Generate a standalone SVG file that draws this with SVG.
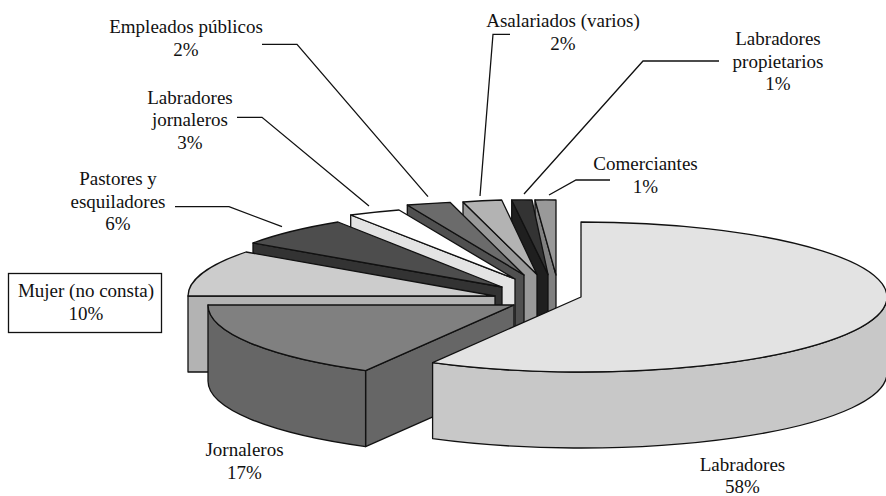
<svg xmlns="http://www.w3.org/2000/svg" width="886" height="496" viewBox="0 0 886 496">
<style>
.s{stroke:#111;stroke-width:1.3;stroke-linejoin:round}
.t{font-size:19px;fill:#111;text-anchor:middle}
.c{fill:none;stroke:#111;stroke-width:1.3}
</style>
<rect width="886" height="496" fill="#fff"/>
<g id="comerciantes">
<path class="s" fill="#808080" d="M535,200 L556,275 L556,351 L535,276 Z"/>
<path class="s" fill="#999" d="M556,275 L535,200 A306,75 0 0 1 556,200 Z"/>
</g>
<g id="labradores-propietarios">
<path class="s" fill="#1f1f1f" d="M511.7,200 L548,274.5 L548,350.5 L511.7,276 Z"/>
<path class="s" fill="#333" d="M548,274.5 L511.7,200 A306,75 0 0 1 532,200 Z"/>
</g>
<g id="asalariados">
<path class="s" fill="#999" d="M463,202 L537,274.5 L537,350.5 L463,278 Z"/>
<path class="s" fill="#b3b3b3" d="M537,274.5 L463,202 A306,75 0 0 1 501.7,200 Z"/>
</g>
<g id="empleados">
<path class="s" fill="#505050" d="M407.3,205 L524,275 L524,351 L407.3,281 Z"/>
<path class="s" fill="#6b6b6b" d="M524,275 L407.3,205 A306,75 0 0 1 450,202.3 Z"/>
</g>
<g id="labradores-jornaleros">
<path class="s" fill="#e3e3e3" d="M350.7,215 L515,279 L515,355 L350.7,291 Z"/>
<path class="s" fill="#fff" d="M515,279 L350.7,215 A306,75 0 0 1 399,210 Z"/>
</g>
<g id="pastores">
<path class="s" fill="#333" d="M253,243 L502,287 L502,363 L253,319 Z"/>
<path class="s" fill="#4d4d4d" d="M502,287 L253,243 A306,75 0 0 1 338,222 Z"/>
</g>
<g id="mujer">
<path class="s" fill="#b3b3b3" d="M188,296 L495,296 L495,372 L188,372 Z"/>
<path class="s" fill="#ccc" d="M495,296 L188,296 A306,75 0 0 1 246,252 Z"/>
</g>
<g id="jornaleros">
<path class="s" fill="#666" d="M365.6,370.6 L514,305 L514,381 L365.6,446.6 Z"/>
<path class="s" fill="#666" d="M365.6,370.6 A306,75 0 0 1 208,305 L208,381 A306,75 0 0 0 365.6,446.6 Z"/>
<path class="s" fill="#808080" d="M514,305 L365.6,370.6 A306,75 0 0 1 208,305 Z"/>
</g>
<g id="labradores">
<path class="s" fill="#c8c8c8" d="M887,297 A306,75 0 0 1 432.6,362.6 L432.6,438.6 A306,75 0 0 0 887,373 Z"/>
<path class="s" fill="#e3e3e3" d="M581,297 L581,222 A306,75 0 1 1 432.6,362.6 Z"/>
</g>
<g id="connectors">
<path class="c" d="M262,44.3 H297 L428,196.7"/>
<path class="c" d="M237,117.3 H262 L369,206"/>
<path class="c" d="M175,206.7 H229 L282,226.7"/>
<path class="c" d="M510,34.3 H493 L480,196"/>
<path class="c" d="M719,61 H643 L524,194"/>
<path class="c" d="M610,180 H576 L549,195"/>
</g>
<g id="labels" font-family="'Liberation Serif', 'DejaVu Serif', serif">
<text class="t" x="186" y="33">Empleados públicos</text>
<text class="t" x="186" y="56">2%</text>
<text class="t" x="563" y="27">Asalariados (varios)</text>
<text class="t" x="563" y="50">2%</text>
<text class="t" x="778" y="45">Labradores</text>
<text class="t" x="778" y="67.5">propietarios</text>
<text class="t" x="778" y="90">1%</text>
<text class="t" x="190" y="103.5">Labradores</text>
<text class="t" x="190" y="125.5">jornaleros</text>
<text class="t" x="190" y="148.5">3%</text>
<text class="t" x="645.5" y="170">Comerciantes</text>
<text class="t" x="645.5" y="192.5">1%</text>
<text class="t" x="118" y="185">Pastores y</text>
<text class="t" x="118" y="207.5">esquiladores</text>
<text class="t" x="118" y="230">6%</text>
<rect x="8.5" y="273.5" width="153" height="59" fill="#fff" stroke="#111" stroke-width="1.3"/>
<text class="t" x="86" y="297">Mujer (no consta)</text>
<text class="t" x="86" y="319.5">10%</text>
<text class="t" x="244.5" y="456">Jornaleros</text>
<text class="t" x="244.5" y="479">17%</text>
<text class="t" x="742.5" y="471">Labradores</text>
<text class="t" x="742.5" y="493">58%</text>
</g>
</svg>
